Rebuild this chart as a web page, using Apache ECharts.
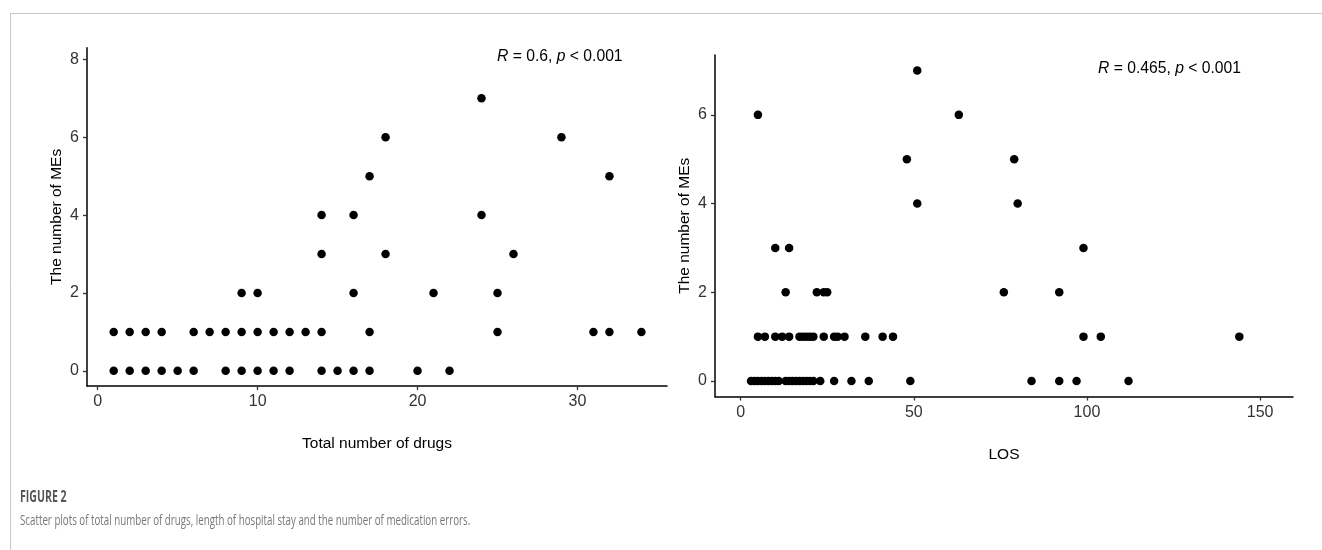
<!DOCTYPE html>
<html>
<head>
<meta charset="utf-8">
<script src="https://cdn.jsdelivr.net/npm/echarts@6/dist/echarts.min.js"></script>
<style>
html,body{margin:0;padding:0;background:#fff;}
#c{width:1322px;height:550px;}
</style>
</head>
<body>
<div id="c"></div>
<script>
// Left panel: Total number of drugs vs number of MEs
const drugsX = [1,2,3,4,5,6,8,9,10,11,12,14,15,16,17,20,22,
                1,2,3,4,6,7,8,9,10,11,12,13,14,17,25,31,32,34,
                9,10,16,21,25,
                14,18,26,
                14,16,24,
                17,32,
                18,29,
                24];
const drugsY = [0,0,0,0,0,0,0,0,0,0,0,0,0,0,0,0,0,
                1,1,1,1,1,1,1,1,1,1,1,1,1,1,1,1,1,1,
                2,2,2,2,2,
                3,3,3,
                4,4,4,
                5,5,
                6,6,
                7];
// Right panel: LOS vs number of MEs
const losX = [3,4,5,6,7,8,9,10,11,13,14,15,16,17,18,19,20,21,23,27,32,37,49,84,92,97,112,
              5,7,10,12,14,17,18,19,20,21,24,27,28,30,36,41,44,99,104,144,
              13,22,24,25,76,92,
              10,14,99,
              51,80,
              48,79,
              5,63,
              51];
const losY = [0,0,0,0,0,0,0,0,0,0,0,0,0,0,0,0,0,0,0,0,0,0,0,0,0,0,0,
              1,1,1,1,1,1,1,1,1,1,1,1,1,1,1,1,1,1,1,1,
              2,2,2,2,2,2,
              3,3,3,
              4,4,
              5,5,
              6,6,
              7];
const leftXTicks = [0,10,20,30];
const leftYTicks = [0,2,4,6,8];
const rightXTicks = [0,50,100,150];
const rightYTicks = [0,2,4,6];
const leftLabel = '{i|R} = 0.6, {i|p} < 0.001';
const rightLabel = '{i|R} = 0.465, {i|p} < 0.001';
const xTitleLeft = 'Total number of drugs';
const xTitleRight = 'LOS';
const yTitle = 'The number of MEs';
const figTitle = 'FIGURE 2';
const figCaption = 'Scatter plots of total number of drugs, length of hospital stay and the number of medication errors.';

const FONT = '"Liberation Sans", Arial, sans-serif';
function pts(xs, ys){ return xs.map((x,i)=>[x, ys[i]]); }
function axisCommon(ticks){
  return {
    axisLine:{show:true, onZero:false, lineStyle:{color:'#000', width:1.5}},
    axisTick:{show:true, length:4, lineStyle:{color:'#333', width:1.3},
      customValues: ticks},
    axisLabel:{color:'#333', fontSize:16, fontFamily:FONT, customValues: ticks, margin:8},
    splitLine:{show:false},
    nameTextStyle:{color:'#000', fontSize:15.5, fontFamily:FONT}
  };
}
const chart = echarts.init(document.getElementById('c'));
const option = {
  backgroundColor:'#fff',
  animation:false,
  grid:[
    {left:87, top:47.7, width:580, height:338.3},
    {left:715, top:55, width:578, height:341.5}
  ],
  xAxis:[
    Object.assign({type:'value', gridIndex:0, min:-0.67, max:35.6, name:xTitleLeft,
      nameLocation:'middle', nameGap:50}, axisCommon(leftXTicks)),
    Object.assign({type:'value', gridIndex:1, min:-7.4, max:159.5, name:xTitleRight,
      nameLocation:'middle', nameGap:50}, axisCommon(rightXTicks))
  ],
  yAxis:[
    Object.assign({type:'value', gridIndex:0, min:-0.39, max:8.3, name:yTitle,
      nameLocation:'middle', nameGap:22}, axisCommon(leftYTicks)),
    Object.assign({type:'value', gridIndex:1, min:-0.35, max:7.35, name:yTitle,
      nameLocation:'middle', nameGap:22}, axisCommon(rightYTicks))
  ],
  series:[
    {type:'scatter', xAxisIndex:0, yAxisIndex:0, data:pts(drugsX, drugsY),
      symbolSize:8.5, itemStyle:{color:'#000', opacity:1}},
    {type:'scatter', xAxisIndex:1, yAxisIndex:1, data:pts(losX, losY),
      symbolSize:8.5, itemStyle:{color:'#000', opacity:1}}
  ],
  graphic:[
    {type:'line', shape:{x1:10, y1:13.5, x2:1322, y2:13.5}, style:{stroke:'#c8c8c8', lineWidth:1}},
    {type:'line', shape:{x1:10.5, y1:13, x2:10.5, y2:550}, style:{stroke:'#c8c8c8', lineWidth:1}},
    {type:'text', left:497, top:49, style:{text:leftLabel, fontSize:15.7, fontFamily:FONT, fill:'#000',
      rich:{i:{fontStyle:'italic', fontSize:15.7, fontFamily:FONT, fill:'#000'}}}},
    {type:'text', left:1098, top:61, style:{text:rightLabel, fontSize:15.7, fontFamily:FONT, fill:'#000',
      rich:{i:{fontStyle:'italic', fontSize:15.7, fontFamily:FONT, fill:'#000'}}}},
    {type:'text', x:20, y:489, style:{text:figTitle, fontSize:16, fontWeight:'bold', fontFamily:'"Open Sans", sans-serif', fill:'#555'}, scaleX:0.66},
    {type:'text', x:20, y:513, style:{text:figCaption, fontSize:15, fontFamily:'"Open Sans", sans-serif', fill:'#777'}, scaleX:0.65}
  ]
};
chart.setOption(option);
</script>
</body>
</html>
